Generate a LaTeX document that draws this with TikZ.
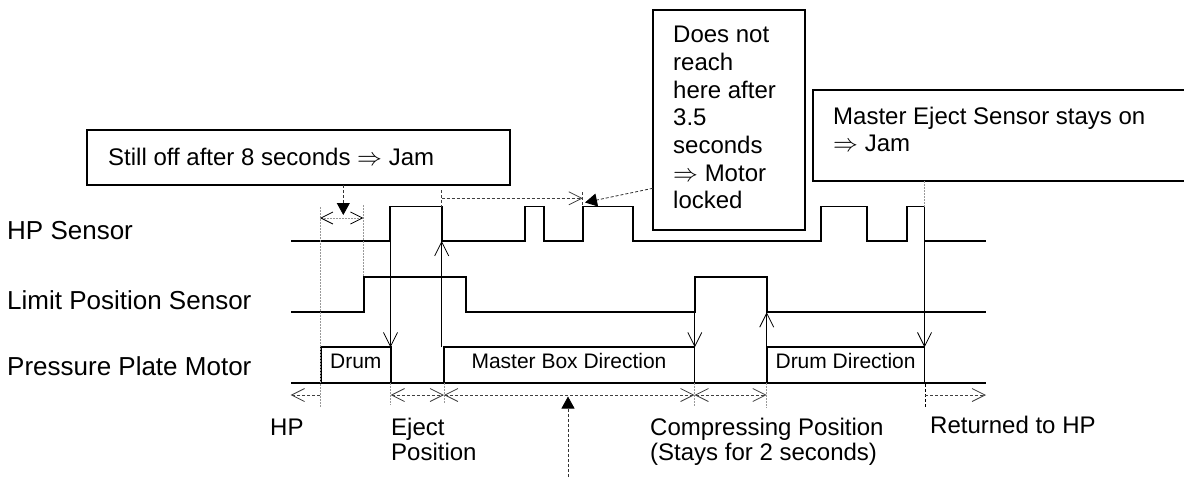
\documentclass[tikz,border=0pt]{standalone}
\usepackage{fontspec}
\setmainfont{Liberation Sans}
\usetikzlibrary{arrows.meta}
\tikzset{
  dimtip/.tip={Straight Barb[length=13pt,width=13pt,line width=0.8pt]},
  evtip/.tip={Straight Barb[length=14pt,width=14pt,line width=0.8pt]},
  gtip/.tip={Straight Barb[length=12pt,width=12pt,line width=0.8pt]},
  ptip/.tip={Triangle[length=12pt,width=13pt]},
}
\begin{document}
\begin{tikzpicture}[x=1pt,y=-1pt,
  sig/.style={line width=1.8pt, line join=miter},
  ev/.style={line width=0.8pt, -{evtip}},
  guide/.style={gray!80, line width=0.8pt, dash pattern=on 1.5pt off 1.5pt},
  dim/.style={black!75, line width=0.8pt, dash pattern=on 3pt off 2pt},
  box/.style={draw, rectangle, line width=1.6pt, inner sep=0pt},
  lbl/.style={font=\fontsize{26}{30}\selectfont, anchor=base west, inner sep=0pt},
  txt/.style={font=\fontsize{24}{27.7}\selectfont, anchor=base west, inner sep=0pt},
  mlbl/.style={font=\fontsize{21}{25}\selectfont, anchor=base, inner sep=0pt},
  ptr/.style={black!80, line width=0.8pt, dash pattern=on 3pt off 2pt, -{ptip[black]}},
]
\useasboundingbox (0,0) rectangle (1184,477);

% left labels
\node[lbl] (lhp) at (7,239.3) {HP Sensor};
\node[lbl] (llim) at (7,309.5) {Limit Position Sensor};
\node[lbl] (lmot) at (7,375.5) {Pressure Plate Motor};

% waveforms
\draw[sig] (291,241) -- (390,241) -- (390,206.5) -- (441.7,206.5) -- (441.7,241) -- (525,241) -- (525,206.5) -- (544,206.5) -- (544,241) -- (582.7,241) -- (582.7,206.5) -- (633,206.5) -- (633,241) -- (820.7,241) -- (820.7,206.5) -- (867,206.5) -- (867,241) -- (907,241) -- (907,206.5) -- (924.5,206.5) -- (924.5,241) -- (986,241);
\draw[sig] (291,312.3) -- (364,312.3) -- (364,276.7) -- (465.7,276.7) -- (465.7,312.3) -- (695,312.3) -- (695,276.7) -- (766.7,276.7) -- (766.7,312.3) -- (986,312.3);
\draw[sig] (291,382.7) -- (321,382.7) -- (321,347.3) -- (390.7,347.3) -- (390.7,382.7) -- (444,382.7) -- (444,347.3) -- (694.5,347.3) -- (694.5,382.7) -- (766.7,382.7) -- (766.7,347.3) -- (924.5,347.3) -- (924.5,382.7) -- (986,382.7);
\draw[sig] (291,382.7) -- (986,382.7);

% motor labels
\node[mlbl] (mdrum) at (355.8,368) {Drum};
\node[mlbl] (mmbd) at (569,368) {Master Box Direction};
\node[mlbl] (mdd) at (845.6,368) {Drum Direction};

% event coordinates
\coordinate (hpR1) at (390.5,241);
\coordinate (mF1) at (390.5,347.3);
\coordinate (mR1) at (441.7,347.3);
\coordinate (hpF1) at (441.7,241);
\coordinate (limR2) at (694.8,312.3);
\coordinate (mF2) at (694.8,347.3);
\coordinate (mR2) at (766.7,347.3);
\coordinate (limF2) at (766.7,312.3);
\coordinate (hpF5) at (924.5,241);
\coordinate (mF3) at (924.5,347.3);

\draw[ev] (hpR1) -- (mF1);
\draw[ev] (mR1) -- (hpF1);
\draw[ev] (limR2) -- (mF2);
\draw[ev] (mR2) -- (limF2);
\draw[ev] (hpF5) -- (mF3);

% callout boxes
\node[box, minimum width=423pt, minimum height=55pt] (c1) at (298.5,157.5) {};
\node[txt] (t1) at (108,165) {Still off after 8 seconds $\Rightarrow$ Jam};

\node[box, minimum width=152.3pt, minimum height=220pt] (c2) at (728.85,120) {};
\node[txt] (t2a) at (673,42.7) {Does not};
\node[txt] (t2b) at (673,70.4) {reach};
\node[txt] (t2c) at (673,98.1) {here after};
\node[txt] (t2d) at (673,125.8) {3.5};
\node[txt] (t2e) at (673,153.5) {seconds};
\node[txt] (t2f) at (673,181.2) {$\Rightarrow$ Motor};
\node[txt] (t2g) at (673,208.9) {locked};

\node[box, minimum width=382pt, minimum height=91pt] (c3) at (1004,135.5) {};
\node[txt] (t3a) at (833,124) {Master Eject Sensor stays on};
\node[txt] (t3b) at (833,151.7) {$\Rightarrow$ Jam};

% 8 second guide
\coordinate (g1t) at (320,207);
\coordinate (g1b) at (320,407);
\coordinate (g2t) at (363,205);
\coordinate (g2b) at (363,277);
\draw[guide] (g1t) -- (g1b);
\draw[guide] (g2t) -- (g2b);
\coordinate (d8a) at (320,218);
\coordinate (d8b) at (363.3,218);
\draw[guide, {gtip[black]}-{gtip[black]}] (d8a) -- (d8b);
\coordinate (p1s) at (343.3,185);
\coordinate (p1e) at (343.3,215);
\draw[ptr] (p1s) -- (p1e);

% 3.5 second guide
\coordinate (k1t) at (441.7,190);
\coordinate (k1b) at (441.7,206.5);
\coordinate (k2t) at (582.7,192);
\coordinate (k2b) at (582.7,206.5);
\draw[dim] (k1t) -- (k1b);
\draw[dim] (k2t) -- (k2b);
\coordinate (k3a) at (441.7,198.3);
\coordinate (k3b) at (582.7,198.3);
\draw[dim, -{dimtip}] (k3a) -- (k3b);
\coordinate (p2s) at (652.7,188.3);
\coordinate (p2e) at (585,202.5);
\draw[ptr] (p2s) -- (p2e);

% master eject guide
\coordinate (m3t) at (924.5,181);
\coordinate (m3b) at (924.5,206.5);
\draw[guide] (m3t) -- (m3b);

% bottom dimension line
\coordinate (b0) at (290.7,395);
\coordinate (b1) at (320,395);
\coordinate (b2) at (390.7,395);
\coordinate (b3) at (444,395);
\coordinate (b4) at (694.5,395);
\coordinate (b5) at (766.7,395);
\coordinate (b6) at (925,395);
\coordinate (b7) at (986,395);
\draw[guide] (390.7,383) -- (390.7,405);
\draw[guide] (444,383) -- (444,403);
\draw[guide] (694.5,383) -- (694.5,407);
\draw[guide] (766.7,383) -- (766.7,408);
\draw[dim, black] (925,384) -- (925,407);
\draw[dim, -{dimtip}] (b1) -- (b0);
\draw[dim, {dimtip}-{dimtip}] (b2) -- (b3);
\draw[dim, {dimtip}-{dimtip}] (b3) -- (b4);
\draw[dim, {dimtip}-{dimtip}] (b4) -- (b5);
\draw[dim, -{dimtip}] (b6) -- (b7);

\coordinate (p3s) at (568,477);
\coordinate (p3e) at (568,396.5);
\draw[ptr] (p3s) -- (p3e);

% bottom labels
\node[txt] (bhp) at (270,435) {HP};
\node[txt] (bej1) at (391,435) {Eject};
\node[txt] (bej2) at (391,460.5) {Position};
\node[txt] (bcp1) at (650,435) {Compressing Position};
\node[txt] (bcp2) at (650,460.5) {(Stays for 2 seconds)};
\node[txt] (bret) at (930,433) {Returned to HP};
\end{tikzpicture}
\end{document}
